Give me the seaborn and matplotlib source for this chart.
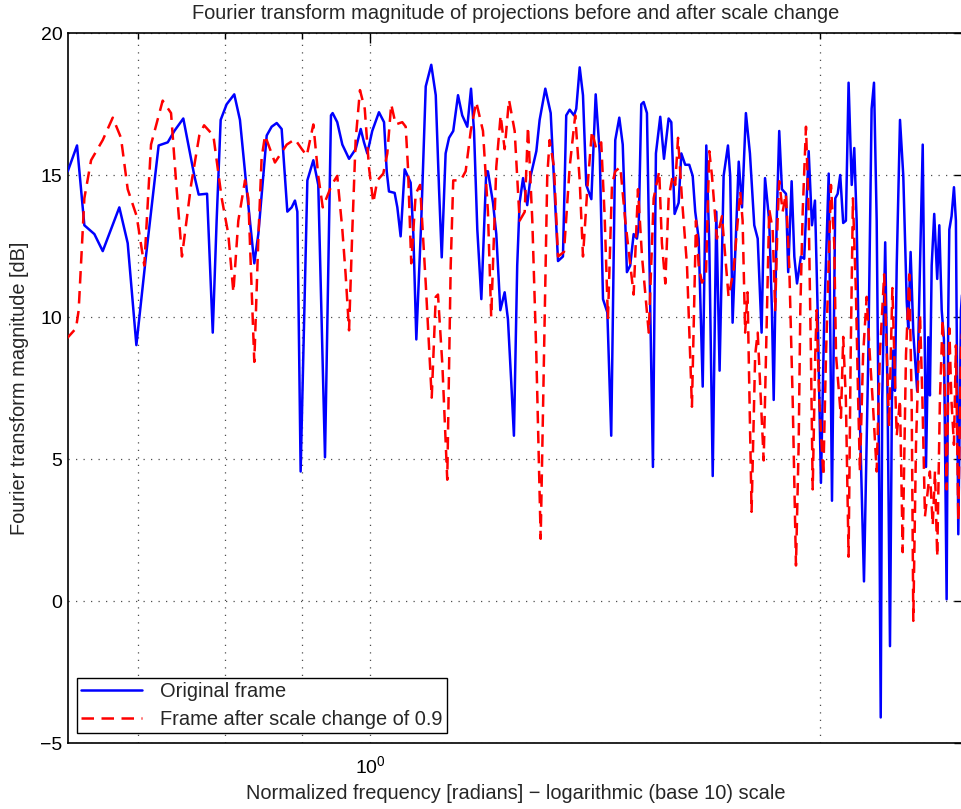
import numpy as np
import pandas as pd
import matplotlib
matplotlib.use("Agg")
import matplotlib.pyplot as plt
from matplotlib.ticker import FixedLocator, FixedFormatter, NullFormatter
import seaborn as sns

# Spectrum of the original frame: log10 of normalized frequency and magnitude in dB
orig_log10_freq = [
    -0.2022, -0.1960, -0.1911, -0.1844, -0.1788, -0.1733, -0.1677, -0.1621, -0.1563, -0.1499,
    -0.1414, -0.1353, -0.1309, -0.1249, -0.1175, -0.1146, -0.1090, -0.1052, -0.1026, -0.0999,
    -0.0959, -0.0908, -0.0870, -0.0825, -0.0774, -0.0747, -0.0691, -0.0658, -0.0624, -0.0591,
    -0.0553, -0.0524, -0.0502, -0.0486, -0.0464, -0.0419, -0.0379, -0.0346, -0.0301, -0.0261,
    -0.0250, -0.0219, -0.0185, -0.0140, -0.0096, -0.0062, -0.0040, -0.0018, 0.0015, 0.0060,
    0.0094, 0.0112, 0.0127, 0.0165, 0.0183, 0.0205, 0.0232, 0.0272, 0.0290, 0.0310,
    0.0343, 0.0373, 0.0410, 0.0440, 0.0462, 0.0480, 0.0506, 0.0529, 0.0557, 0.0589,
    0.0617, 0.0651, 0.0676, 0.0696, 0.0718, 0.0745, 0.0778, 0.0789, 0.0823, 0.0845,
    0.0872, 0.0901, 0.0923, 0.0945, 0.0963, 0.0985, 0.1001, 0.1024, 0.1052, 0.1075,
    0.1113, 0.1135, 0.1173, 0.1209, 0.1236, 0.1258, 0.1291, 0.1313, 0.1336, 0.1365,
    0.1380, 0.1403, 0.1425, 0.1447, 0.1481, 0.1510, 0.1537, 0.1559, 0.1588, 0.1614,
    0.1641, 0.1668, 0.1691, 0.1719, 0.1741, 0.1764, 0.1786, 0.1798, 0.1815, 0.1831,
    0.1853, 0.1875, 0.1893, 0.1913, 0.1942, 0.1967, 0.1998, 0.2016, 0.2038, 0.2065,
    0.2083, 0.2109, 0.2136, 0.2159, 0.2176, 0.2199, 0.2226, 0.2250, 0.2270, 0.2293,
    0.2317, 0.2339, 0.2366, 0.2395, 0.2410, 0.2426, 0.2467, 0.2489, 0.2515, 0.2542,
    0.2571, 0.2594, 0.2609, 0.2620, 0.2634, 0.2643, 0.2671, 0.2689, 0.2701, 0.2721,
    0.2738, 0.2756, 0.2783, 0.2798, 0.2821, 0.2839, 0.2857, 0.2883, 0.2905, 0.2935,
    0.2957, 0.2977, 0.2995, 0.3017, 0.3039, 0.3069, 0.3091, 0.3113, 0.3129, 0.3146,
    0.3166, 0.3184, 0.3202, 0.3223, 0.3240, 0.3256, 0.3278, 0.3305, 0.3334, 0.3356,
    0.3372, 0.3390, 0.3407, 0.3417, 0.3427, 0.3447, 0.3463, 0.3479, 0.3492, 0.3501,
    0.3512, 0.3524, 0.3546, 0.3568, 0.3591, 0.3601, 0.3617, 0.3635, 0.3661, 0.3680,
    0.3698, 0.3706, 0.3720, 0.3735, 0.3746, 0.3758, 0.3775, 0.3795, 0.3809, 0.3825,
    0.3840, 0.3858, 0.3869, 0.3876, 0.3891, 0.3907, 0.3920, 0.3936, 0.3954, 0.3970,
]
orig_db = [
    15.13, 16.04, 13.23, 12.92, 12.32, 13.08, 13.86, 12.60, 9.01, 12.13,
    16.04, 16.15, 16.55, 16.99, 14.97, 14.31, 14.34, 9.45, 13.39, 16.94,
    17.49, 17.84, 16.94, 14.50, 11.89, 12.92, 16.39, 16.70, 16.83, 16.62,
    13.71, 13.86, 14.10, 13.71, 4.56, 14.81, 15.52, 14.65, 5.06, 17.10,
    17.18, 16.86, 16.07, 15.57, 15.91, 16.62, 16.15, 15.76, 16.55, 17.21,
    16.86, 15.13, 14.42, 14.37, 13.86, 12.84, 15.20, 14.73, 12.92, 9.21,
    13.39, 18.12, 18.88, 17.81, 14.50, 12.10, 15.76, 16.31, 16.55, 17.81,
    17.10, 16.70, 18.04, 16.55, 13.08, 10.63, 15.13, 15.13, 14.02, 12.92,
    10.24, 10.87, 9.92, 7.71, 5.82, 11.81, 14.02, 14.89, 13.94, 14.97,
    15.84, 16.94, 18.04, 17.18, 14.34, 11.97, 12.13, 17.10, 17.30, 17.10,
    17.33, 18.79, 17.81, 14.65, 14.15, 17.84, 15.76, 10.63, 10.16, 5.82,
    16.23, 17.02, 16.07, 11.58, 11.81, 12.92, 12.76, 13.23, 17.49, 17.57,
    17.18, 10.24, 4.72, 15.76, 17.05, 15.57, 16.99, 16.86, 13.63, 14.02,
    15.76, 15.36, 15.36, 14.97, 13.71, 12.76, 7.55, 16.04, 12.60, 4.40,
    13.71, 8.11, 14.97, 16.04, 14.97, 9.80, 15.47, 13.86, 17.18, 15.76,
    13.23, 12.76, 10.87, 9.45, 13.08, 14.89, 13.39, 10.24, 7.08, 13.39,
    16.55, 14.50, 14.34, 11.58, 14.78, 12.13, 11.18, 12.13, 12.05, 15.84,
    13.23, 14.10, 10.24, 4.16, 9.92, 15.05, 3.53, 14.18, 14.34, 15.00,
    13.31, 13.39, 18.25, 14.65, 15.95, 13.39, 6.30, 0.69, 8.66, 17.33,
    18.25, 13.39, 3.93, -4.10, 7.08, 12.63, 7.08, -1.59, 7.08, 8.82,
    7.40, 11.81, 16.94, 14.97, 10.55, 9.60, 12.29, 9.45, 7.40, 11.81,
    16.07, 11.81, 4.72, 9.29, 7.24, 11.81, 13.63, 11.34, 13.23, 10.24,
    9.21, 0.06, 10.24, 13.08, 13.55, 14.57, 13.39, 2.35, 10.24, 11.50,
]

# Spectrum of the frame after the 0.9 scale change
scaled_log10_freq = [
    -0.2034, -0.1967, -0.1949, -0.1911, -0.1866, -0.1788, -0.1721, -0.1666, -0.1621, -0.1561,
    -0.1510, -0.1465, -0.1387, -0.1331, -0.1298, -0.1258, -0.1197, -0.1142, -0.1110, -0.1048,
    -0.0992, -0.0948, -0.0914, -0.0881, -0.0836, -0.0814, -0.0774, -0.0747, -0.0725, -0.0702,
    -0.0669, -0.0636, -0.0557, -0.0502, -0.0457, -0.0423, -0.0379, -0.0346, -0.0316, -0.0256,
    -0.0219, -0.0185, -0.0163, -0.0140, -0.0118, -0.0096, -0.0067, -0.0035, -0.0007, 0.0022,
    0.0049, 0.0089, 0.0116, 0.0142, 0.0172, 0.0216, 0.0239, 0.0254, 0.0276, 0.0306,
    0.0335, 0.0373, 0.0413, 0.0440, 0.0455, 0.0484, 0.0517, 0.0540, 0.0557, 0.0607,
    0.0640, 0.0674, 0.0711, 0.0756, 0.0789, 0.0811, 0.0845, 0.0874, 0.0901, 0.0930,
    0.0968, 0.1001, 0.1035, 0.1057, 0.1086, 0.1113, 0.1142, 0.1164, 0.1186, 0.1202,
    0.1231, 0.1258, 0.1298, 0.1336, 0.1373, 0.1403, 0.1425, 0.1454, 0.1485, 0.1514,
    0.1547, 0.1570, 0.1592, 0.1619, 0.1641, 0.1675, 0.1708, 0.1764, 0.1793, 0.1820,
    0.1865, 0.1898, 0.1935, 0.1953, 0.1976, 0.1998, 0.2025, 0.2042, 0.2061, 0.2087,
    0.2121, 0.2154, 0.2181, 0.2199, 0.2221, 0.2248, 0.2270, 0.2288, 0.2321, 0.2355,
    0.2399, 0.2433, 0.2477, 0.2493, 0.2510, 0.2526, 0.2553, 0.2577, 0.2594, 0.2634,
    0.2656, 0.2671, 0.2694, 0.2711, 0.2727, 0.2738, 0.2761, 0.2783, 0.2805, 0.2828,
    0.2850, 0.2868, 0.2879, 0.2895, 0.2917, 0.2935, 0.2950, 0.2962, 0.2979, 0.2988,
    0.3006, 0.3033, 0.3051, 0.3084, 0.3106, 0.3118, 0.3151, 0.3166, 0.3184, 0.3202,
    0.3216, 0.3231, 0.3251, 0.3266, 0.3278, 0.3299, 0.3323, 0.3344, 0.3364, 0.3390,
    0.3411, 0.3440, 0.3458, 0.3473, 0.3495, 0.3512, 0.3524, 0.3546, 0.3564, 0.3586,
    0.3608, 0.3624, 0.3635, 0.3653, 0.3680, 0.3696, 0.3713, 0.3746, 0.3765, 0.3780,
    0.3795, 0.3813, 0.3831, 0.3847, 0.3858, 0.3876, 0.3890, 0.3907, 0.3920, 0.3936,
    0.3954, 0.3970,
]
scaled_db = [
    9.21, 9.60, 10.24, 14.18, 15.52, 16.23, 17.02, 16.31, 14.50, 13.55,
    11.81, 16.07, 17.62, 17.18, 14.81, 12.13, 14.65, 16.39, 16.75, 16.39,
    14.18, 12.92, 10.87, 13.39, 14.81, 14.18, 8.42, 12.76, 15.60, 16.39,
    15.92, 15.44, 16.07, 16.26, 15.92, 15.68, 16.78, 14.97, 13.86, 14.65,
    14.97, 13.08, 11.50, 9.53, 13.08, 16.23, 17.99, 17.33, 15.28, 14.02,
    14.81, 15.05, 15.76, 17.49, 16.78, 16.86, 16.70, 15.28, 11.89, 14.34,
    14.65, 11.18, 7.16, 10.71, 10.79, 8.34, 4.27, 11.81, 14.81, 14.81,
    15.13, 16.55, 17.57, 16.55, 13.71, 10.00, 15.28, 17.10, 15.91, 17.65,
    16.55, 13.39, 13.70, 16.70, 13.39, 8.66, 2.19, 8.66, 14.97, 16.23,
    15.28, 12.13, 12.29, 15.28, 17.10, 14.81, 12.13, 14.50, 16.55, 15.91,
    16.15, 13.55, 9.92, 14.65, 15.13, 15.28, 13.39, 10.79, 14.50, 12.13,
    9.45, 14.18, 15.13, 12.60, 11.18, 14.18, 14.97, 14.65, 16.31, 14.18,
    11.81, 6.84, 13.39, 11.81, 11.21, 11.50, 15.84, 14.97, 12.76, 13.55,
    10.71, 11.66, 14.42, 13.39, 9.45, 10.87, 3.14, 8.66, 9.45, 4.95,
    10.24, 13.79, 13.08, 10.24, 13.39, 14.78, 13.71, 14.34, 11.81, 7.08,
    1.25, 5.50, 10.24, 13.71, 16.70, 13.71, 8.66, 3.93, 8.66, 10.24,
    7.08, 4.40, 8.66, 14.65, 12.60, 8.66, 6.45, 9.30, 7.08, 1.56,
    8.66, 14.18, 10.87, 7.08, 4.56, 8.66, 10.71, 8.66, 7.00, 4.56,
    8.66, 11.50, 8.66, 6.14, 11.02, 7.87, 5.82, 7.08, 1.72, 8.66,
    11.50, 7.08, -0.70, 5.50, 10.08, 7.08, 2.98, 4.56, 2.67, 4.56,
    1.56, 7.08, 9.92, 7.08, 3.93, 9.60, 7.08, 5.50, 9.00, 2.82,
    8.98, 10.00,
]

series_labels = ["Original frame", "Frame after scale change of 0.9"]
y_ticks = [-5, 0, 5, 10, 15, 20]
x_major_ticks = [1.0]
x_major_labels = ["$10^{0}$"]
x_minor_ticks = [0.7, 0.8, 0.9, 2.0]

sns.set_theme(style="white")
plt.rcParams["font.family"] = ["Liberation Sans", "DejaVu Sans"]
plt.rcParams["mathtext.fontset"] = "custom"
plt.rcParams["mathtext.rm"] = "Liberation Sans"
plt.rcParams["mathtext.it"] = "Liberation Sans:italic"
plt.rcParams["mathtext.bf"] = "Liberation Sans:bold"
plt.rcParams["axes.unicode_minus"] = True

TEXT_SIZE = 14.4

fig = plt.figure(figsize=(9.61, 8.09), dpi=100)
fig.patch.set_facecolor("white")
ax = fig.add_axes([68 / 961, 66 / 809, 896 / 961, 710 / 809])
ax.set_facecolor("white")
ax.set_xscale("log")

orig = pd.DataFrame({"freq": 10 ** np.array(orig_log10_freq), "db": orig_db})
scaled = pd.DataFrame({"freq": 10 ** np.array(scaled_log10_freq), "db": scaled_db})

sns.lineplot(data=orig, x="freq", y="db", ax=ax, color="#0000ff", linewidth=1.8,
             label=series_labels[0], sort=False, estimator=None, zorder=3)
sns.lineplot(data=scaled, x="freq", y="db", ax=ax, color="#ff0000", linewidth=1.8,
             linestyle=(0, (5, 3)), label=series_labels[1], sort=False, estimator=None,
             zorder=3)

ax.set_xlim(0.628, 2.497)
ax.set_ylim(-5, 20)

ax.xaxis.set_major_locator(FixedLocator(x_major_ticks))
ax.xaxis.set_major_formatter(FixedFormatter(x_major_labels))
ax.xaxis.set_minor_locator(FixedLocator(x_minor_ticks))
ax.xaxis.set_minor_formatter(NullFormatter())
ax.set_yticks(y_ticks)
ax.set_yticklabels([f"{v}".replace("-", "\u2212") for v in y_ticks])

grid_style = dict(color="0.3", linestyle=(0, (1, 5)), linewidth=0.9)
ax.grid(True, which="major", axis="y", **grid_style)
ax.grid(True, which="both", axis="x", **grid_style)
ax.set_axisbelow(True)

ax.tick_params(which="both", direction="in", top=True, right=True, colors="black",
               width=1.0)
ax.tick_params(which="major", length=7, labelsize=14)
ax.tick_params(which="minor", length=4)
ax.tick_params(axis="x", which="major", pad=8.5)
ax.tick_params(axis="y", which="major", pad=4)

for spine in ax.spines.values():
    spine.set_color("black")
    spine.set_linewidth(1.2)

ax.set_title("Fourier transform magnitude of projections before and after scale change",
             fontsize=TEXT_SIZE, x=0.5, y=1.027, va="center", pad=0)
ax.set_xlabel("Normalized frequency [radians] \u2212 logarithmic (base 10) scale",
              fontsize=TEXT_SIZE)
ax.xaxis.set_label_coords(0.5, -0.071)
ax.xaxis.label.set_va("center")
ax.set_ylabel("Fourier transform magnitude [dB]", fontsize=TEXT_SIZE)
ax.yaxis.set_label_coords(-0.0536, 0.5)
ax.yaxis.label.set_va("center")
ax.yaxis.label.set_rotation_mode("default")

leg = ax.legend(loc="lower left", bbox_to_anchor=(77 / 961, 76 / 809),
                bbox_transform=fig.transFigure, borderaxespad=0, frameon=True,
                fancybox=False, shadow=False, edgecolor="black", facecolor="white",
                framealpha=1, fontsize=TEXT_SIZE, handlelength=3.05, handletextpad=0.9,
                borderpad=0.2, labelspacing=0.45)
leg.get_frame().set_linewidth(1.0)
leg.set_zorder(5)

fig.savefig("out.png", dpi=100, facecolor="white")
